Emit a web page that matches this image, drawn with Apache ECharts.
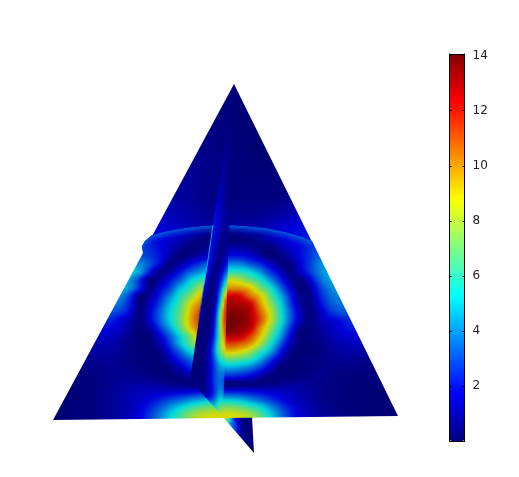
<!DOCTYPE html>
<html><head><meta charset="utf-8">
<script src="https://cdn.jsdelivr.net/npm/echarts@6/dist/echarts.min.js"></script>
<style>html,body{margin:0;padding:0;background:#fff}#c{width:519px;height:477px}</style>
</head><body><div id="c"></div>
<script>
// Colour scale
var valueMin = 0, valueMax = 14.06;
var colorbarTicks = [2,4,6,8,10,12,14];
var jetStops = ['#000080','#0000ff','#00ffff','#ffff00','#ff0000','#800000'];
var jetPositions = [0,0.125,0.375,0.625,0.875,1];
var surfaceShade = 0.86;

// Outline of the visible surfaces (model units)
var triangleX = [234,398,53], triangleY = [84,416,420];
var sliceX = [234,190,223], sliceY = [84,380,417];
var tailX = [223,252,254], tailY = [417,417,453];
var arcX = [142,145,152,160,168,185,202,225,245,265,285,302,312];
var arcY = [246,241,235,233,231,228,226,225,226,228,232,237,241];
var rimValue = 3.1;
var rimFade = [1,.85,.55,.4,.28,.2,.12,.06];
var discLowerX = [143,142], discLowerY = [253,248];
var edgeX = [213,208,204,201,199], edgeY = [225,260,285,305,320];
var edgeValue = [4.5,5.5,4.5,3,2];

// Surface above the disc: row position, first column, values every 10 units
var upperY = [84,100,120,140,160,180,200,215,228,246];
var upperStart = [230,220,210,200,190,180,170,160,150,140];
var upperRows = [
[.1,.1],
[.2,.2,.1,.1],
[.3,.3,.2,.1,.1],
[.4,.4,.3,.2,.15,.1,.1,.1],
[.5,.5,.4,.3,.2,.2,.15,.1,.1,.1],
[.7,.6,.5,.4,.3,.3,.2,.2,.2,.2,.2,.2],
[.9,.8,.7,.5,.4,.3,.3,.3,.3,.3,.3,.4,.5,.6],
[1.3,1.2,1,.9,.7,.6,.5,.5,.5,.5,.6,.7,.9,1.1,1.3],
[1.7,1.7,1.5,1.3,1.1,.9,.8,.7,.7,.8,.9,1,1.2,1.5,1.7,1.9,2],
[2,2,2,1.8,1.5,1.3,1.1,1,1,1,1,1,1.1,1.3,1.6,1.9,2,2.2,2.4]
];

// Surface below the disc rim
var lowerY = [232,240,248,256,264,272,280,288,296,304,312,320,328,336,344,352,360,368,376,384,392,400,408,416];
var lowerStart = [150,140,140,140,130,130,120,120,110,110,110,100,100,90,90,80,80,80,70,70,60,60,60,50];
var lowerRows = [
[2,1.9,1.7,1.5,1.2,.8,.6,.5,.5,.6,.8,1,1.3,1.6,1.8,2,2.2],
[2.2,2.1,1.8,1.5,1.1,.7,.3,.15,.15,.15,.2,.25,.5,1,1.4,1.8,2.1,2.5,2.8],
[2.6,2.4,1.8,1.2,.6,.15,.3,.6,.9,1,.9,.7,.3,.15,.8,1.4,1.9,2.5,3],
[3,2.6,2,1,.2,.5,1,1.5,1.9,2,2,1.6,.9,.2,.3,1,1.8,2.6,3.4],
[4,3.9,3,1.7,.2,.85,1.8,2.6,3.3,3.8,3.9,3.8,3.1,2.4,1.4,.4,.3,1.6,2.7,3.9,4.4],
[5,4.2,2,.3,.85,2,3.3,4.1,5,5.8,5.9,5.8,5.2,4.1,2.6,1.4,.3,1.3,2.6,3.8,4.6],
[5,4.2,2.4,.25,.8,2,3.2,4.9,5.9,7,8,8.5,8,6.9,5.8,4.1,2.4,.85,.25,1.6,3.3,4.3,4.6],
[4.8,4,2.2,.35,1.6,2.8,4.7,6,7.7,9,9.9,10,9.9,9.2,7.3,5.7,3.6,1.6,.2,.8,2.6,3.8,4.3],
[4.2,4,2.6,.25,.85,2.2,3.9,5.7,7.3,9.2,11,12,12.5,12.2,10.6,9.2,6.8,4.7,2.4,.6,.5,2.2,3.4,3.9],
[3.8,3.4,2.2,.2,1.2,2.8,4.7,6.3,8.7,10.2,12,13,13.2,13,12.6,10,7.7,5.4,2.8,.8,.3,1.8,3,3.5,3.6],
[3,2.7,1.7,.2,1.6,3.3,5.2,6.8,9.2,11.2,12.8,13.6,13.7,13.6,13,10.8,8.5,5.8,3.3,1.2,.3,1.2,2.4,3,3.1],
[2.3,2.3,1.7,1,.2,1.6,3.3,5.2,7,9.5,11.4,13,13.9,14,13.8,13.1,11.2,8.6,5.9,3.3,1.2,.25,1,1.6,2,2.4,2.5],
[1.8,1.8,1.4,.7,.2,.85,2.6,4.4,6.6,9,10.8,12.8,13.6,14,13.5,12.9,10.2,7.7,5.2,2.6,.5,.2,.7,1.2,1.7,2.1,2],
[1.3,1.4,1.3,1,.5,.15,.3,1.6,3.3,5.2,7.3,10,11.8,12.6,13,12.9,11.4,9.3,6.8,4.4,1.8,.2,.3,.5,1,1.4,1.6,1.5],
[1,1,1,.7,.4,.2,.2,1,2.6,4.7,6.6,8.3,9.6,10.6,11.2,10.8,9.9,8,5.7,3.3,1.2,.2,.2,.4,.7,1,1.2,1.2,1.1],
[.7,.8,.8,.7,.6,.35,.2,.2,.3,1.8,3.3,5,6.3,7.6,8.6,9.1,8.7,7.7,6,4.4,2.2,.5,.15,.15,.35,.6,.8,.9,.8,.7],
[.5,.5,.6,.6,.5,.35,.25,.15,.2,1,2.2,3.3,4.7,5.6,6.2,6.6,6.3,5.7,4.4,2.6,1,.2,.2,.25,.4,.5,.6,.6,.5,.5,.5],
[.3,.4,.4,.5,.5,.45,.35,.2,.15,.3,1.2,2.2,2.8,3.6,4.2,4.4,4.1,3.6,2.6,1.4,.2,.15,.15,.25,.4,.45,.4,.4,.35,.3,.3],
[.2,.25,.3,.35,.45,.55,.55,.5,.4,.25,.2,.3,.85,1.4,2,2.3,2.4,2.2,1.8,1,.3,.2,.2,.3,.4,.5,.35,.3,.25,.2,.2,.2],
[.15,.2,.25,.35,.5,.7,.8,.85,.8,.7,.5,.35,.2,.3,.2,.15,.15,.2,.15,.25,.3,.5,.65,.7,.6,.45,.35,.25,.2,.15,.15,.12,.12],
[.1,.15,.2,.25,.4,.6,.85,1.05,1.2,1.3,1.4,1.5,1.6,1.8,2,2.2,2.3,2.3,2.2,2,1.8,1.6,1.4,1.2,.95,.7,.5,.3,.25,.15,.12,.1,.1,.1],
[.1,.15,.2,.25,.4,.6,.85,1.1,1.4,1.8,2.3,2.9,3.4,4,4.4,4.8,5,5,4.7,4.1,3.4,2.7,2,1.5,1.1,.8,.5,.35,.25,.15,.1,.1,.1,.1,.1],
[.1,.15,.2,.25,.4,.6,.85,1.1,1.6,2.3,3.2,4.2,5.2,6.1,6.8,7.2,7.4,7.4,7.1,6.4,5.5,4.3,3.1,2.1,1.4,1,.7,.45,.3,.2,.15,.1,.1,.1,.1],
[.1,.1,.15,.2,.3,.4,.6,.9,1.2,1.8,2.7,3.8,5.1,6.3,7.5,8.3,8.7,8.8,8.8,8.6,8,6.8,5.3,3.7,2.4,1.6,1.1,.8,.55,.4,.25,.15,.1,.1,.1,.1]
];

// Oblique slice: values every 5 units
var sliceRowY = [84,100,140,180,205,225,240,255,270,285,300,317,335,350,365,380,395,410,418];
var sliceStart = [225,225,225,215,215,210,205,205,205,200,200,195,195,190,190,190,205,215,220];
var sliceRows = [
[.2,.1,.1],
[.3,.2,.1],
[.6,.3,.1],
[1,.9,.7,.2],
[1.8,1.2,.7,.4],
[2.2,2,1.2,.7,.5],
[2,2,1.6,.6,.4,.5],
[2,2,1,.3,.8,1.2],
[2.4,1.2,.4,.8,2.5,3.5],
[2.4,1.6,.4,.5,2.5,5.5,8],
[1.6,.3,.2,1,4.5,10,12],
[1.2,.8,.2,.3,2,7,11.5],
[.5,.2,.2,.6,3,7,10.5],
[.3,.2,.2,.3,1.5,4,7,8.5],
[.2,.2,.2,.5,1.5,3,4.5,5],
[.15,.2,.2,.5,1.5,2.8,3.5,3],
[1,1.8,3,4.5,4],
[6,7.5,7.5],
[9,9]
];

// Part of the slice under the base line
var tailRowY = [417,430,445,453];
var tailStart = [225,235,245,250];
var tailRows = [
[8.8,5.5,2,.8,.3,.1,.1],
[3,1,.3,.1,.1],
[.5,.15,.1],
[.1,.1]
];

function jet(v, shade){
  var s = shade === undefined ? 1 : shade;
  var t = Math.max(0, Math.min(1, (v - valueMin) / (valueMax - valueMin)));
  for (var i = 1; i < jetPositions.length; i++) {
    if (t <= jetPositions[i]) {
      var f = (t - jetPositions[i-1]) / (jetPositions[i] - jetPositions[i-1]);
      var a = hex(jetStops[i-1]), b = hex(jetStops[i]);
      return 'rgb(' + [0,1,2].map(function(k){ return Math.round((a[k] + (b[k]-a[k])*f)*s); }).join(',') + ')';
    }
  }
  return jetStops[jetStops.length-1];
}
function hex(c){ return [1,3,5].map(function(i){ return parseInt(c.substr(i,2),16); }); }
function cubic(a, b, c, d, t){
  return b + 0.5*t*(c - a + t*(2*a - 5*b + 4*c - d + t*(3*(b - c) + d - a)));
}
function rowValue(row, start, dx, x){
  var p = (x - start) / dx;
  if (p <= 0) return row[0];
  if (p >= row.length-1) return row[row.length-1];
  var i = Math.floor(p);
  return cubic(row[Math.max(i-1,0)], row[i], row[i+1], row[Math.min(i+2,row.length-1)], p-i);
}
function surfaceSeries(ys, starts, rows, dx, px, py, xFrom, xTo, yFrom, yTo, z){
  var strips = [];
  for (var y = yFrom; y < yTo; y += 1) strips.push([y]);
  return {
    type: 'custom', coordinateSystem: 'cartesian2d', xAxisIndex: 0, yAxisIndex: 0,
    silent: true, z: z, animation: false, data: strips,
    renderItem: function(params, api){
      var y = api.value(0), mid = y + 0.5;
      var k = 0;
      while (k < ys.length-2 && ys[k+1] < mid) k++;
      var f = Math.max(0, Math.min(1, (mid - ys[k]) / (ys[k+1]-ys[k])));
      var stops = [];
      for (var x = xFrom; x <= xTo; x += 2) {
        var v = cubic(
          rowValue(rows[Math.max(k-1,0)], starts[Math.max(k-1,0)], dx, x),
          rowValue(rows[k], starts[k], dx, x),
          rowValue(rows[k+1], starts[k+1], dx, x),
          rowValue(rows[Math.min(k+2,rows.length-1)], starts[Math.min(k+2,rows.length-1)], dx, x), f);
        stops.push({offset: (x-xFrom)/(xTo-xFrom), color: jet(Math.max(0.03, v), surfaceShade)});
      }
      var a = api.coord([xFrom, y]), b = api.coord([xTo, y+1]);
      return {
        type: 'rect',
        shape: {x: a[0], y: a[1], width: b[0]-a[0], height: b[1]-a[1]},
        style: {fill: new echarts.graphic.LinearGradient(a[0],0,b[0],0,stops,true)},
        clipPath: {type: 'polygon', shape: {points: px.map(function(q,i){ return api.coord([q, py[i]]); })}}
      };
    }
  };
}

var discX = arcX.concat([triangleX[1], triangleX[2]], discLowerX);
var discY = arcY.concat([triangleY[1], triangleY[2]], discLowerY);

var rimSeries = {
  type: 'custom', coordinateSystem: 'cartesian2d', xAxisIndex: 0, yAxisIndex: 0,
  silent: true, z: 4, animation: false,
  data: rimFade.map(function(a,i){ return [i]; }),
  renderItem: function(params, api){
    var i = api.value(0);
    return {
      type: 'polyline',
      shape: {points: arcX.map(function(x,j){ return api.coord([x, arcY[j]+i+0.5]); }), smooth: 0.3},
      style: {fill: null, stroke: jet(rimValue, surfaceShade), lineWidth: 1.5, opacity: rimFade[i]},
      clipPath: {type:'polygon', shape:{points: discX.map(function(q,j){ return api.coord([q, discY[j]]); })}}
    };
  }
};
var edgeSeries = {
  type: 'custom', coordinateSystem: 'cartesian2d', xAxisIndex: 0, yAxisIndex: 0,
  silent: true, z: 6, animation: false,
  data: edgeX.slice(0,-1).map(function(x,i){ return [i]; }),
  renderItem: function(params, api){
    var i = api.value(0);
    var a = api.coord([edgeX[i], edgeY[i]]), b = api.coord([edgeX[i+1], edgeY[i+1]]);
    return {
      type: 'line',
      shape: {x1:a[0], y1:a[1], x2:b[0], y2:b[1]},
      style: {stroke: jet((edgeValue[i]+edgeValue[i+1])/2, surfaceShade), lineWidth: 1, opacity: .8}
    };
  }
};

var chart = echarts.init(document.getElementById('c'), null, {renderer:'canvas'});
chart.setOption({
  animation: false,
  backgroundColor: '#fff',
  grid: [
    {left:0, top:0, width:519, height:477, show:false},
    {left:449.5, top:54, width:15, height:387, show:false}
  ],
  xAxis: [
    {type:'value', gridIndex:0, min:0, max:519, show:false},
    {type:'value', gridIndex:1, min:0, max:1, z:6, axisLine:{show:true,onZero:false,lineStyle:{color:'#000'}}, axisTick:{show:false}, axisLabel:{show:false}, splitLine:{show:false}},
    {type:'value', gridIndex:1, min:0, max:1, z:6, position:'top', axisLine:{show:true,onZero:false,lineStyle:{color:'#000'}}, axisTick:{show:false}, axisLabel:{show:false}, splitLine:{show:false}}
  ],
  yAxis: [
    {type:'value', gridIndex:0, min:0, max:477, inverse:true, show:false},
    {type:'value', gridIndex:1, min:valueMin, max:valueMax, interval:2, position:'right', z:6,
      axisLine:{show:true,onZero:false,lineStyle:{color:'#000'}},
      axisTick:{show:true,inside:true,length:2,lineStyle:{color:'#000'}},
      axisLabel:{show:true,margin:8,color:'#222',fontFamily:'DejaVu Sans',fontSize:12,
        formatter:function(v){ return colorbarTicks.indexOf(v)>=0 ? String(v) : ''; }},
      splitLine:{show:false}},
    {type:'value', gridIndex:1, min:valueMin, max:valueMax, interval:2, position:'left', z:6,
      axisLine:{show:true,onZero:false,lineStyle:{color:'#000'}},
      axisTick:{show:true,inside:true,length:2,lineStyle:{color:'#000'}},
      axisLabel:{show:false}, splitLine:{show:false}}
  ],
  visualMap: {
    type:'continuous', min:valueMin, max:valueMax, seriesIndex:[], show:true, calculable:false,
    left:449.5, top:54, itemWidth:15, itemHeight:387, padding:0, z:1, hoverLink:false,
    inRange:{color: [0,1,2,3,4,5,6,7,8].map(function(i){ return jet(valueMin + i/8*(valueMax-valueMin)); }) }
  },
  series: [
    surfaceSeries(tailRowY, tailStart, tailRows, 5, tailX, tailY, 220, 260, 417, 453, 1),
    surfaceSeries(upperY, upperStart, upperRows, 10, triangleX, triangleY, 130, 340, 84, 246, 2),
    surfaceSeries(lowerY, lowerStart, lowerRows, 10, discX, discY, 50, 400, 224, 420, 3),
    rimSeries,
    surfaceSeries(sliceRowY, sliceStart, sliceRows, 5, sliceX, sliceY, 185, 240, 84, 418, 5),
    edgeSeries
  ]
});
</script></body></html>
